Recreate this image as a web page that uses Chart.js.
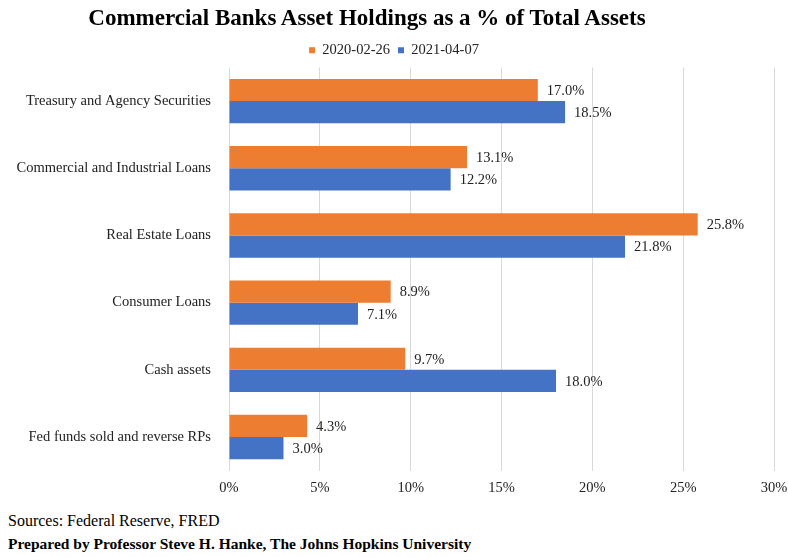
<!DOCTYPE html>
<html>
<head>
<meta charset="utf-8">
<script src="https://cdn.jsdelivr.net/npm/chart.js@4"></script>
<style>
  body { margin: 0; background: #fff; }
  #wrap { position: relative; width: 788px; height: 557px; font-family: "Liberation Serif", "Times New Roman", serif; color: #000; }
  #title { position: absolute; top: 5px; left: 0; width: 734px; text-align: center; font-size: 23px; font-weight: bold; }
  #chartBox { position: absolute; left: 0; top: 0; width: 788px; height: 506px; }
  .note { position: absolute; left: 8px; white-space: nowrap; }
</style>
</head>
<body>
<div id="wrap">
  <div id="chartBox"><canvas id="assetChart"></canvas></div>
  <div id="title">Commercial Banks Asset Holdings as a % of Total Assets</div>
  <div class="note" style="top:512px;font-size:16px">Sources: Federal Reserve, FRED</div>
  <div class="note" style="top:535px;font-size:15.5px;font-weight:bold">Prepared by Professor Steve H. Hanke, The Johns Hopkins University</div>
</div>
<script>
const categories = [
  'Treasury and Agency Securities',
  'Commercial and Industrial Loans',
  'Real Estate Loans',
  'Consumer Loans',
  'Cash assets',
  'Fed funds sold and reverse RPs'
];
const series2020 = [17.0, 13.1, 25.8, 8.9, 9.7, 4.3];
const series2021 = [18.5, 12.2, 21.8, 7.1, 18.0, 3.0];
const seriesNames = ['2020-02-26', '2021-04-07'];

const serif = "'Liberation Serif', 'Times New Roman', serif";

// value text at the end of each bar
const barLabels = {
  id: 'barLabels',
  afterDatasetsDraw(chart) {
    const ctx = chart.ctx;
    ctx.save();
    ctx.font = '14.5px ' + serif;
    ctx.fillStyle = '#222';
    ctx.textBaseline = 'middle';
    chart.data.datasets.forEach((ds, i) => {
      chart.getDatasetMeta(i).data.forEach((bar, j) => {
        ctx.fillText(ds.data[j].toFixed(1) + '%', bar.x + 9, bar.y + 1);
      });
    });
    ctx.restore();
  }
};

new Chart(document.getElementById('assetChart'), {
  type: 'bar',
  data: {
    labels: categories,
    datasets: [
      { label: seriesNames[0], data: series2020, backgroundColor: '#ED7D31' },
      { label: seriesNames[1], data: series2021, backgroundColor: '#4472C4' }
    ]
  },
  options: {
    indexAxis: 'y',
    responsive: true,
    maintainAspectRatio: false,
    animation: false,
    categoryPercentage: 0.66,
    barPercentage: 1.0,
    layout: { padding: { top: 35, left: 0, right: 0, bottom: 0 } },
    plugins: {
      legend: {
        labels: {
          usePointStyle: true,
          pointStyle: 'rect',
          boxWidth: 6,
          boxHeight: 6,
          padding: 8,
          color: '#222',
          font: { family: serif, size: 14.5 }
        }
      },
      tooltip: { enabled: false }
    },
    scales: {
      x: {
        min: 0,
        max: 30,
        afterFit(scale) { scale.paddingRight = 14; },
        ticks: {
          stepSize: 5,
          padding: 9,
          color: '#222',
          font: { family: serif, size: 14.5 },
          callback: v => v + '%'
        },
        grid: { color: '#d9d9d9', drawTicks: false },
        border: { display: false }
      },
      y: {
        afterFit(scale) { scale.width = 229; },
        ticks: { padding: 10, color: '#222', font: { family: serif, size: 14.5 } },
        grid: { display: false },
        border: { display: false }
      }
    }
  },
  plugins: [barLabels]
});
</script>
</body>
</html>
